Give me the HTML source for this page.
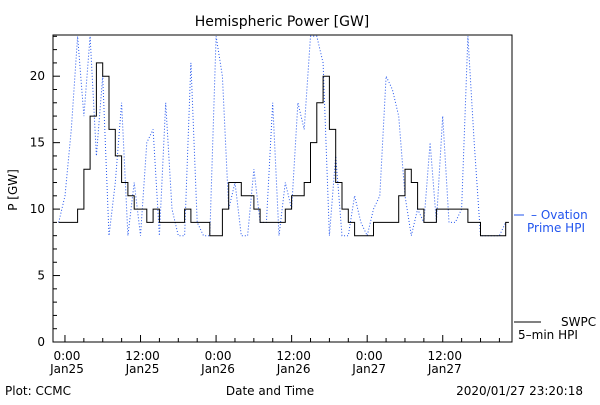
<!DOCTYPE html>
<html><head><meta charset="utf-8"><style>
body{margin:0;background:#fff;}
svg text{font-family:"DejaVu Sans","Liberation Sans",sans-serif;font-size:12px;}
</style></head><body>
<svg id="chart" width="600" height="400" viewBox="0 0 600 400" xmlns="http://www.w3.org/2000/svg">
<rect width="600" height="400" fill="#fff"/>
<text x="282" y="26" text-anchor="middle" font-size="14" style="font-size:14px">Hemispheric Power [GW]</text>
<g id="axes"></g>
<g id="series"></g>
<text transform="translate(17,190) rotate(-90)" text-anchor="middle">P [GW]</text>
<text x="270" y="395" text-anchor="middle">Date and Time</text>
<text x="5" y="395">Plot: CCMC</text>
<text x="583" y="395" text-anchor="end">2020/01/27 23:20:18</text>
<g>
<line x1="514" y1="215" x2="524" y2="215" stroke="#2255ee" stroke-width="1"/>
<text x="531" y="219" fill="#2255ee">– Ovation</text>
<text x="527" y="232" fill="#2255ee">Prime HPI</text>
</g>
<g>
<line x1="514" y1="322" x2="541" y2="322" stroke="#000" stroke-width="1"/>
<text x="561" y="326">SWPC</text>
<text x="518" y="339">5–min HPI</text>
</g>
</svg>
<script>
const hours = [];
for (let h = -1; h <= 70; h++) hours.push(h);
const swpcValues = [9,9,9,10,13,17,21,20,16,14,12,11,10,10,9,10,9,9,9,9,10,9,9,9,8,8,10,12,12,11,11,10,9,9,9,9,10,11,11,12,15,18,20,16,12,10,9,8,8,8,9,9,9,9,11,13,12,10,9,9,10,10,10,10,10,9,9,8,8,8,8,9];
const ovationValues = [9,11,16,23,17,23,14,20,8,12,18,8,12,8,15,16,8,18,10,8,8,21,9,8,8,23,20,10,12,8,8,13,9,9,18,8,12,10,18,16,23,23,21,8,14,8,8,11,9,8,10,11,20,19,17,11,8,10,9,15,9,17,9,9,10,23,15,8,8,8,8,9];
const yTicks = [0,5,10,15,20];
const xTickHours = [0,12,24,36,48,60];
const xTickLabels = [["0:00","Jan25"],["12:00","Jan25"],["0:00","Jan26"],["12:00","Jan26"],["0:00","Jan27"],["12:00","Jan27"]];

const L=53,R=512,T=35,B=342,yMax=23.1,hMin=-1.9,hMax=71;
const xs=h=>L+(h-hMin)/(hMax-hMin)*(R-L);
const ys=v=>B-Math.min(v,yMax)/yMax*(B-T);
const NS="http://www.w3.org/2000/svg";
function mk(tag,attrs,parent){const e=document.createElementNS(NS,tag);for(const k in attrs)e.setAttribute(k,attrs[k]);parent.appendChild(e);return e;}
const axes=document.getElementById('axes'), series=document.getElementById('series');

const frame=mk('path',{d:`M${L},${T}H${R}V${B}H${L}Z`,fill:'none',stroke:'#000','stroke-width':1},axes);


for(let v=0;v<=23;v++){
  const len=v%5===0?7:4;
  const t=mk('line',{x1:L,x2:L+len,y1:ys(v),y2:ys(v),stroke:'#000'},axes);
  
  
}
yTicks.forEach(v=>{
  const t=mk('text',{x:L-8,y:ys(v)+4,'text-anchor':'end'},axes);
  t.textContent=v;
  
  
});
for(let h=0;h<=69;h+=3){
  const len=h%12===0?7:4;
  const t=mk('line',{x1:xs(h),x2:xs(h),y1:B,y2:B-len,stroke:'#000'},axes);
  
  
}
xTickHours.forEach((h,i)=>{
  const t=mk('text',{x:xs(h)+2,y:360,'text-anchor':'middle'},axes);
  t.textContent=xTickLabels[i][0];
  
  
  const t2=mk('text',{x:xs(h)+2,y:373,'text-anchor':'middle'},axes);
  t2.textContent=xTickLabels[i][1];
  
  
});

let d='';
hours.forEach((h,i)=>{d+=(i?'L':'M')+xs(h).toFixed(1)+','+ys(ovationValues[i]).toFixed(1);});
const ov=mk('path',{d,fill:'none',stroke:'#2255ee','stroke-width':1,'stroke-dasharray':'1 2'},series);



let d2='';
hours.forEach((h,i)=>{const x=xs(h),y=ys(swpcValues[i]);d2+=(i?'H'+x.toFixed(1)+'V'+y.toFixed(1):'M'+x.toFixed(1)+','+y.toFixed(1));});
d2+='H'+xs(70.5).toFixed(1);
const sw=mk('path',{d:d2,fill:'none',stroke:'#000','stroke-width':1},series);


</script>
</body></html>
